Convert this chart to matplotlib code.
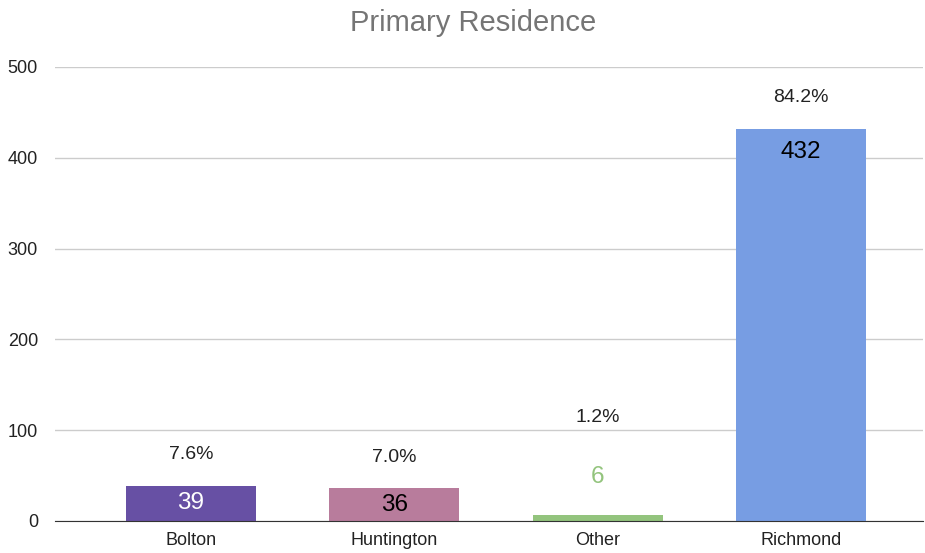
import matplotlib.pyplot as plt

plt.rcParams['font.family'] = ['Liberation Sans', 'DejaVu Sans']

# data
towns = ['Bolton', 'Huntington', 'Other', 'Richmond']
counts = [39, 36, 6, 432]
bar_colors = ['#6750a4', '#b87c9c', '#93c47d', '#779de3']
label_colors = ['white', 'black', '#93c47d', 'black']
yticks = [0, 100, 200, 300, 400, 500]

total = sum(counts)

fig = plt.figure(figsize=(9.25, 5.53), dpi=100)
ax = fig.add_axes([0.059, 0.058, 0.939, 0.821])

x = list(range(len(towns)))
ax.bar(x, counts, width=0.64, color=bar_colors, zorder=3)

px = 0.72  # points per pixel
ppu = 454.0 / 500  # pixels per data unit
for i, v in enumerate(counts):
    inside = v > 20
    if inside:
        # count inside the bar, percentage above it
        off = min(23, v * ppu / 2)
        ax.annotate(str(v), (i, v), xytext=(0, -off * px), textcoords='offset points',
                    ha='center', va='center', fontsize=17.5, color=label_colors[i], zorder=4)
        pct_off = 31 * px
    else:
        ax.annotate(str(v), (i, v), xytext=(0, 38 * px), textcoords='offset points',
                    ha='center', va='center', fontsize=17.5, color=label_colors[i], zorder=4)
        pct_off = 98 * px
    ax.annotate('%.1f%%' % (v * 100.0 / total), (i, v), xytext=(0, pct_off),
                textcoords='offset points', ha='center', va='center', fontsize=14,
                color='#222222', zorder=4)

ax.set_xlim(-0.67, 3.6)
ax.set_ylim(0, 500)
ax.set_yticks(yticks)
ax.set_xticks(x)
ax.set_xticklabels(towns)
ax.tick_params(axis='both', length=0, labelsize=13, colors='#222222')
ax.tick_params(axis='y', pad=12)
ax.tick_params(axis='x', pad=8)
ax.grid(axis='y', color='#cccccc', linewidth=1, zorder=0)
for s in ['top', 'right', 'left']:
    ax.spines[s].set_visible(False)
ax.spines['bottom'].set_color('#333333')
ax.spines['bottom'].set_zorder(5)

fig.text(0.512, 0.958, 'Primary Residence', ha='center', va='center', fontsize=21, color='#757575')

fig.savefig('out.png', dpi=100)
